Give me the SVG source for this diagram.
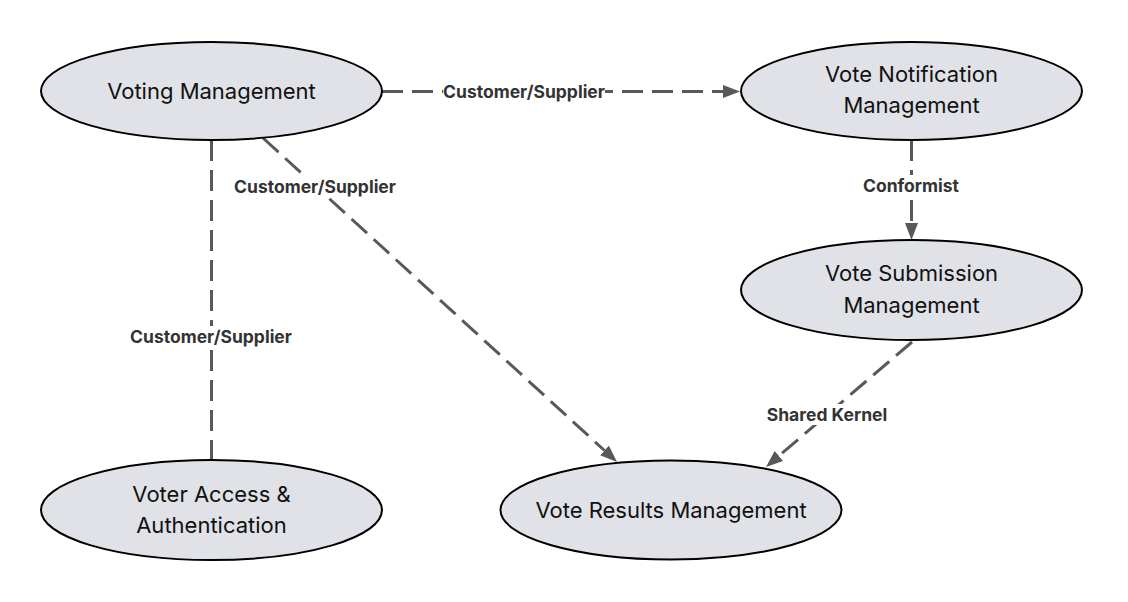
<svg xmlns="http://www.w3.org/2000/svg" width="1128" height="602" viewBox="0 0 1128 602">
<style>
.node ellipse{fill:#e0e2e7;stroke:#000;stroke-width:2}
.node text{font-family:Inter,"Liberation Sans",sans-serif;font-size:22px;fill:#111;text-anchor:middle}
.edge{stroke:#595959;stroke-width:3;fill:none;stroke-dasharray:21 9}
.lbl{font-family:Inter,"Liberation Sans",sans-serif;font-size:17.5px;font-weight:700;fill:#333;text-anchor:middle}
.lblbg{fill:#fff}
</style>
<defs>
<marker id="arr" markerUnits="userSpaceOnUse" markerWidth="18" markerHeight="14" refX="0" refY="6.5" orient="auto">
<path d="M0,0 L17,6.5 L0,13 z" fill="#595959"/>
</marker>
</defs>
<rect width="1128" height="602" fill="#fff"/>
<g id="connectors">
<line class="edge" x1="382" y1="91.5" x2="723" y2="91.5" marker-end="url(#arr)"/>
<line class="edge" x1="263" y1="138" x2="604.5" y2="450.5" marker-end="url(#arr)"/>
<line class="edge" x1="211.5" y1="140" x2="211.5" y2="460"/>
<line class="edge" x1="911.5" y1="140" x2="911.5" y2="223" marker-end="url(#arr)"/>
<line class="edge" x1="912" y1="342" x2="778.9" y2="455.9" marker-end="url(#arr)"/>
<rect class="lblbg" x="443" y="81" width="162" height="21"/>
<text class="lbl" x="524" y="98">Customer/Supplier</text>
<rect class="lblbg" x="234" y="176" width="162" height="21"/>
<text class="lbl" x="315" y="193">Customer/Supplier</text>
<rect class="lblbg" x="130" y="326" width="162" height="21"/>
<text class="lbl" x="211" y="343">Customer/Supplier</text>
<rect class="lblbg" x="863" y="175" width="97" height="21"/>
<text class="lbl" x="911" y="192">Conformist</text>
<rect class="lblbg" x="766" y="404" width="121" height="21"/>
<text class="lbl" x="827" y="421">Shared Kernel</text>
</g>
<g id="voting-management" class="node">
<ellipse cx="211.5" cy="91" rx="170.5" ry="49"/>
<text x="211.5" y="98.5">Voting Management</text>
</g>
<g id="vote-notification-management" class="node">
<ellipse cx="911.5" cy="91" rx="170.5" ry="49"/>
<text x="911.5" y="81.5">Vote Notification</text>
<text x="911.5" y="113">Management</text>
</g>
<g id="vote-submission-management" class="node">
<ellipse cx="911.5" cy="290" rx="170.5" ry="50"/>
<text x="911.5" y="281">Vote Submission</text>
<text x="911.5" y="313">Management</text>
</g>
<g id="voter-access-authentication" class="node">
<ellipse cx="211.5" cy="510" rx="170.5" ry="50"/>
<text x="211.5" y="502">Voter Access &amp;</text>
<text x="211.5" y="533">Authentication</text>
</g>
<g id="vote-results-management" class="node">
<ellipse cx="671" cy="510" rx="170.5" ry="49.5"/>
<text x="671" y="517.5">Vote Results Management</text>
</g>
</svg>
